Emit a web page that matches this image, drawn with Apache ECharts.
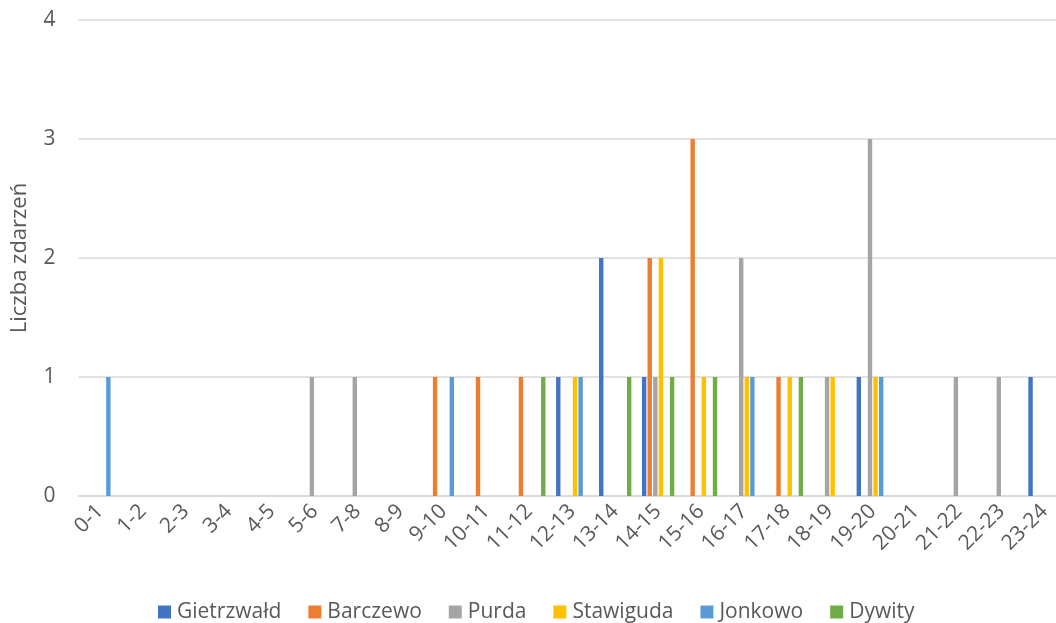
<!DOCTYPE html>
<html>
<head>
<meta charset="utf-8">
<script src="https://cdn.jsdelivr.net/npm/echarts@6/dist/echarts.min.js"></script>
<style>
  html, body { margin: 0; padding: 0; background: #ffffff; }
  #chart { width: 1056px; height: 623px; }
</style>
</head>
<body>
<div id="chart"></div>
<script>
// Hour-of-day buckets (6-7 has no entry)
const hours = ['0-1','1-2','2-3','3-4','4-5','5-6','7-8','8-9','9-10','10-11','11-12','12-13',
  '13-14','14-15','15-16','16-17','17-18','18-19','19-20','20-21','21-22','22-23','23-24'];

// Event counts per commune, one value per hour bucket
const gietrzwald = [0,0,0,0,0,0,0,0,0,0,0,1,2,1,0,0,0,0,1,0,0,0,1];
const barczewo   = [0,0,0,0,0,0,0,0,1,1,1,0,0,2,3,0,1,0,0,0,0,0,0];
const purda      = [0,0,0,0,0,1,1,0,0,0,0,0,0,1,0,2,0,1,3,0,1,1,0];
const stawiguda  = [0,0,0,0,0,0,0,0,0,0,0,1,0,2,1,1,1,1,1,0,0,0,0];
const jonkowo    = [1,0,0,0,0,0,0,0,1,0,0,1,0,0,0,1,0,0,1,0,0,0,0];
const dywity     = [0,0,0,0,0,0,0,0,0,0,1,0,1,1,1,0,1,0,0,0,0,0,0];

const yTicks = [0, 1, 2, 3, 4];

const seriesDefs = [
  { name: 'Gietrzwałd', data: gietrzwald, color: '#4472C4' },
  { name: 'Barczewo',   data: barczewo,   color: '#ED7D31' },
  { name: 'Purda',      data: purda,      color: '#A5A5A5' },
  { name: 'Stawiguda',  data: stawiguda,  color: '#FFC000' },
  { name: 'Jonkowo',    data: jonkowo,    color: '#5B9BD5' },
  { name: 'Dywity',     data: dywity,     color: '#70AD47' }
];

const FONT = '"Open Sans", "Noto Sans", sans-serif';
const TEXT = '#595959';

const chart = echarts.init(document.getElementById('chart'), null, { renderer: 'canvas' });

chart.setOption({
  animation: false,
  backgroundColor: '#ffffff',
  textStyle: { fontFamily: FONT },
  // plot area runs a little past the right edge of the canvas
  grid: { left: 78.5, width: 987.5, top: 20, bottom: 127, containLabel: false, outerBoundsMode: 'none' },
  legend: {
    left: 158,
    top: 599,
    padding: 0,
    icon: 'rect',
    itemWidth: 13,
    itemHeight: 13,
    itemGap: 27,
    textStyle: { fontFamily: FONT, fontSize: 21, color: TEXT, lineHeight: 26, padding: [0, 0, 0, 1] },
    data: seriesDefs.map(s => s.name)
  },
  xAxis: {
    type: 'category',
    data: hours,
    axisLine: { lineStyle: { color: '#D9D9D9', width: 1.5 } },
    axisTick: { show: false },
    axisLabel: {
      interval: 0,
      rotate: 45,
      margin: 12,
      // bottom padding moves the slanted labels a little further from the baseline
      padding: [0, 0, 36, 0],
      hideOverlap: false,
      fontFamily: FONT,
      fontSize: 21,
      color: TEXT
    }
  },
  yAxis: {
    type: 'value',
    min: yTicks[0],
    max: yTicks[yTicks.length - 1],
    interval: 1,
    name: 'Liczba zdarzeń',
    nameLocation: 'middle',
    nameGap: 48,
    nameTextStyle: { fontFamily: FONT, fontSize: 22, color: TEXT },
    axisLine: { show: false },
    axisTick: { show: false },
    axisLabel: { margin: 23, fontFamily: FONT, fontSize: 21, color: TEXT },
    splitLine: { lineStyle: { color: '#D9D9D9', width: 1.5 } }
  },
  series: seriesDefs.map(s => ({
    name: s.name,
    type: 'bar',
    data: s.data,
    barWidth: 4.4,
    barGap: '27%',
    itemStyle: { color: s.color }
  }))
});
</script>
</body>
</html>
